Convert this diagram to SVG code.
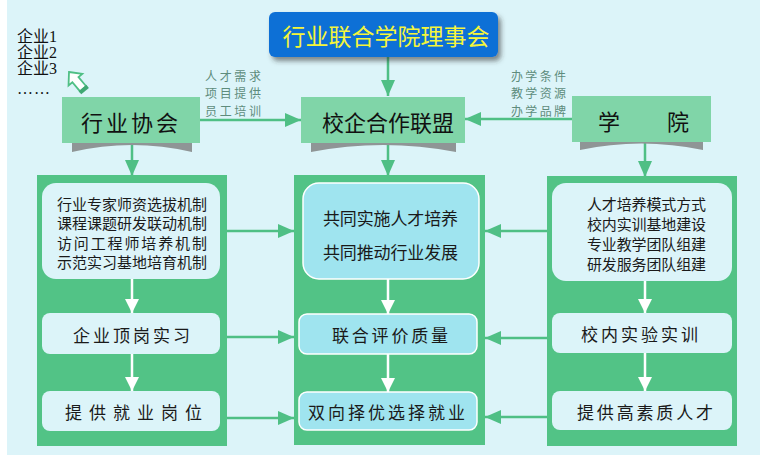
<svg xmlns="http://www.w3.org/2000/svg" width="766" height="461" viewBox="0 0 766 461">
<defs>
<style>
.cjk{font-family:"Noto Sans CJK SC","Noto Sans",sans-serif;}
.hdr{fill:#80d5a8;}
.col{fill:#52c386;}
.ibox{fill:#dcf4f9;}
.mbox{fill:#9fe4ef;stroke:#ffffff;stroke-width:1.5;}
.shd{fill:#8f9596;}
.gline{stroke:#4fbf85;stroke-width:2.5;fill:none;}
.wline{stroke:#ffffff;stroke-width:2.5;fill:none;}
.t15{font-size:15px;fill:#1a1a1a;}
.t17{font-size:17px;fill:#1a1a1a;}
.big{font-size:22px;fill:#111;}
.lbl{font-size:12px;fill:#5e8c7c;}
.ent{font-family:"Liberation Serif","Noto Sans CJK SC",serif;font-size:16px;fill:#111;}
</style>
<marker id="ga" markerUnits="userSpaceOnUse" markerWidth="16" markerHeight="14" refX="16" refY="7" orient="auto"><path d="M0,0 L16,7 L0,14 Z" fill="#4fbf85"/></marker>
<marker id="wa" markerUnits="userSpaceOnUse" markerWidth="14" markerHeight="14" refX="14" refY="7" orient="auto"><path d="M0,0 L14,7 L0,14 Z" fill="#ffffff"/></marker>
<filter id="ds" x="-10%" y="-20%" width="125%" height="150%"><feDropShadow dx="3" dy="4" stdDeviation="2.5" flood-color="#333" flood-opacity="0.55"/></filter>
</defs>
<rect x="0" y="0" width="766" height="461" fill="#ffffff"/>
<rect x="7" y="0" width="753" height="455" fill="#dcf4f9"/>

<g id="connectors">
<line class="gline" x1="388" y1="57" x2="388" y2="96" marker-end="url(#ga)"/>
<line class="gline" x1="200" y1="120" x2="301" y2="120" marker-end="url(#ga)"/>
<line class="gline" x1="572" y1="119" x2="465" y2="119" marker-end="url(#ga)"/>
<line class="gline" x1="132" y1="143" x2="132" y2="176" marker-end="url(#ga)"/>
<line class="gline" x1="388" y1="143" x2="388" y2="176" marker-end="url(#ga)"/>
<line class="gline" x1="645" y1="142" x2="645" y2="177" marker-end="url(#ga)"/>
<line class="gline" x1="227" y1="231" x2="294" y2="231" marker-end="url(#ga)"/>
<line class="gline" x1="227" y1="337" x2="294" y2="337" marker-end="url(#ga)"/>
<line class="gline" x1="227" y1="418" x2="294" y2="418" marker-end="url(#ga)"/>
<line class="gline" x1="547" y1="231" x2="485" y2="231" marker-end="url(#ga)"/>
<line class="gline" x1="547" y1="338" x2="485" y2="338" marker-end="url(#ga)"/>
<line class="gline" x1="547" y1="417" x2="485" y2="417" marker-end="url(#ga)"/>
</g>

<g id="council">
<rect x="269" y="12" width="229" height="45" rx="6" fill="#0f6fd6" filter="url(#ds)"/>
<text class="cjk" x="386" y="35" font-size="23" fill="#f5f53a" text-anchor="middle" dominant-baseline="central">行业联合学院理事会</text>
</g>

<g id="enterprises">
<text class="ent" x="17" y="42">企业1</text>
<text class="ent" x="17" y="58">企业2</text>
<text class="ent" x="17" y="74">企业3</text>
<text class="ent" x="17" y="94" letter-spacing="1">……</text>
<g transform="translate(69,72) rotate(-40)">
<polygon points="0,0 9,10 4,10 4,22 -4,22 -4,10 -9,10" fill="#ffffff" stroke="#4fbf85" stroke-width="1.8" stroke-linejoin="miter"/>
<rect x="-5" y="21" width="10" height="4" fill="#3fa873"/>
</g>
</g>

<g id="association">
<path class="shd" d="M72,143 L192,143 L192,152 Q132,138 72,152 Z"/>
<rect class="hdr" x="62" y="97" width="138" height="46"/>
<text class="cjk big" x="131" y="121" text-anchor="middle" dominant-baseline="central" letter-spacing="3">行业协会</text>
</g>

<g id="alliance">
<path class="shd" d="M311,143 L456,143 L456,152 Q383,138 311,152 Z"/>
<rect class="hdr" x="301" y="97" width="164" height="46"/>
<text class="cjk big" x="388" y="121" text-anchor="middle" dominant-baseline="central">校企合作联盟</text>
</g>

<g id="college">
<path class="shd" d="M580,142 L703,142 L703,150 Q641,137 580,150 Z"/>
<rect class="hdr" x="572" y="96" width="139" height="46"/>
<text class="cjk big" x="609" y="120" text-anchor="middle" dominant-baseline="central">学</text>
<text class="cjk big" x="678" y="120" text-anchor="middle" dominant-baseline="central">院</text>
</g>

<g id="label-left">
<text class="cjk lbl" x="205" y="75" dominant-baseline="central" textLength="56" lengthAdjust="spacing">人才需求</text>
<text class="cjk lbl" x="205" y="92.5" dominant-baseline="central" textLength="56" lengthAdjust="spacing">项目提供</text>
<text class="cjk lbl" x="205" y="110" dominant-baseline="central" textLength="56" lengthAdjust="spacing">员工培训</text>
</g>
<g id="label-right">
<text class="cjk lbl" x="511" y="75" dominant-baseline="central" textLength="55" lengthAdjust="spacing">办学条件</text>
<text class="cjk lbl" x="511" y="92.5" dominant-baseline="central" textLength="55" lengthAdjust="spacing">教学资源</text>
<text class="cjk lbl" x="511" y="110" dominant-baseline="central" textLength="55" lengthAdjust="spacing">办学品牌</text>
</g>

<g id="col-left">
<rect class="col" x="37" y="175" width="190" height="271"/>
<rect class="ibox" x="42" y="183" width="178" height="96" rx="14"/>
<text class="cjk t15" x="57" y="203" dominant-baseline="central" textLength="150" lengthAdjust="spacing">行业专家师资选拔机制</text>
<text class="cjk t15" x="57" y="222.5" dominant-baseline="central" textLength="150" lengthAdjust="spacing">课程课题研发联动机制</text>
<text class="cjk t15" x="57" y="242" dominant-baseline="central" textLength="150" lengthAdjust="spacing">访问工程师培养机制</text>
<text class="cjk t15" x="57" y="261.5" dominant-baseline="central" textLength="150" lengthAdjust="spacing">示范实习基地培育机制</text>
<rect class="ibox" x="42" y="313" width="178" height="41" rx="8"/>
<text class="cjk t17" x="73" y="334" dominant-baseline="central" textLength="117" lengthAdjust="spacing">企业顶岗实习</text>
<rect class="ibox" x="42" y="391" width="178" height="40" rx="8"/>
<text class="cjk t17" x="65" y="411" dominant-baseline="central" textLength="137" lengthAdjust="spacing">提供就业岗位</text>
<line class="wline" x1="132" y1="279" x2="132" y2="313" marker-end="url(#wa)"/>
<line class="wline" x1="132" y1="354" x2="132" y2="391" marker-end="url(#wa)"/>
</g>

<g id="col-mid">
<rect class="col" x="294" y="175" width="191" height="270"/>
<rect class="mbox" x="303" y="183" width="176" height="96" rx="16"/>
<text class="cjk t17" x="323" y="217" dominant-baseline="central" textLength="135" lengthAdjust="spacing">共同实施人才培养</text>
<text class="cjk t17" x="323" y="251" dominant-baseline="central" textLength="135" lengthAdjust="spacing">共同推动行业发展</text>
<rect class="mbox" x="299" y="314" width="178" height="40" rx="8"/>
<text class="cjk t17" x="332" y="334" dominant-baseline="central" textLength="116" lengthAdjust="spacing">联合评价质量</text>
<rect class="mbox" x="299" y="392" width="178" height="38" rx="8"/>
<text class="cjk t17" x="308" y="411" dominant-baseline="central" textLength="157" lengthAdjust="spacing">双向择优选择就业</text>
<line class="wline" x1="388" y1="279" x2="388" y2="314" marker-end="url(#wa)"/>
<line class="wline" x1="388" y1="354" x2="388" y2="392" marker-end="url(#wa)"/>
</g>

<g id="col-right">
<rect class="col" x="547" y="176" width="190" height="270"/>
<rect class="ibox" x="552" y="183" width="180" height="98" rx="14"/>
<text class="cjk t15" x="587" y="203" dominant-baseline="central" textLength="119" lengthAdjust="spacing">人才培养模式方式</text>
<text class="cjk t15" x="587" y="223" dominant-baseline="central" textLength="119" lengthAdjust="spacing">校内实训基地建设</text>
<text class="cjk t15" x="587" y="243" dominant-baseline="central" textLength="119" lengthAdjust="spacing">专业教学团队组建</text>
<text class="cjk t15" x="587" y="263" dominant-baseline="central" textLength="119" lengthAdjust="spacing">研发服务团队组建</text>
<rect class="ibox" x="552" y="313" width="180" height="40" rx="8"/>
<text class="cjk t17" x="581" y="333" dominant-baseline="central" textLength="117" lengthAdjust="spacing">校内实验实训</text>
<rect class="ibox" x="552" y="391" width="180" height="39" rx="8"/>
<text class="cjk t17" x="577" y="411" dominant-baseline="central" textLength="136" lengthAdjust="spacing">提供高素质人才</text>
<line class="wline" x1="645" y1="281" x2="645" y2="313" marker-end="url(#wa)"/>
<line class="wline" x1="645" y1="353" x2="645" y2="391" marker-end="url(#wa)"/>
</g>
</svg>
